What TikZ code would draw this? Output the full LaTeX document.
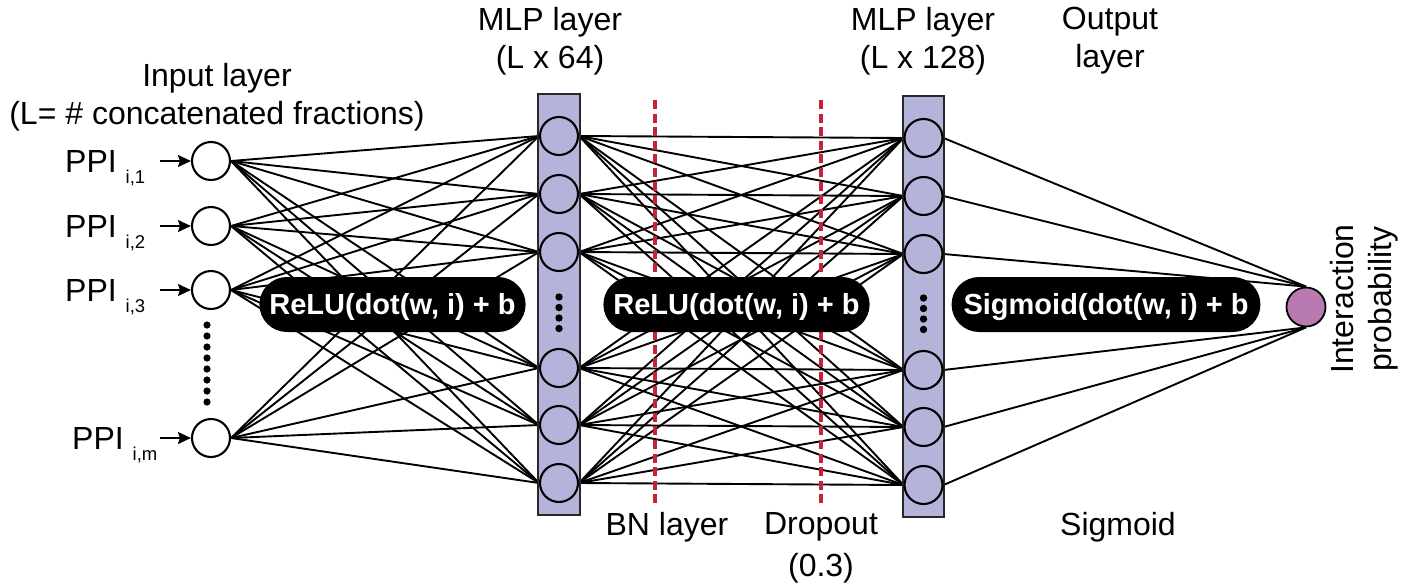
\documentclass[tikz,border=0pt]{standalone}
\usepackage{fontspec}
\setmainfont{Liberation Sans}
\usetikzlibrary{arrows.meta}
\pgfdeclarelayer{background}
\pgfsetlayers{background,main}
\definecolor{lav}{RGB}{180,180,218}
\definecolor{outp}{RGB}{185,122,178}
\definecolor{dred}{RGB}{196,36,52}
\definecolor{rectedge}{RGB}{40,40,40}
\begin{document}
\begin{tikzpicture}[x=1pt,y=-1pt,
  neuron/.style={circle, draw=black, line width=2.1pt, minimum size=38pt, inner sep=0pt},
  inneuron/.style={neuron, fill=white},
  hidneuron/.style={neuron, fill=lav},
  outneuron/.style={neuron, fill=outp, minimum size=39pt, line width=1.8pt},
  layerbox/.style={draw=rectedge, fill=lav, line width=1.9pt, inner sep=0pt},
  wire/.style={line width=1.9pt, black},
  pill/.style={fill=black, text=white, rounded corners=27.5pt, minimum height=55pt, inner xsep=10pt, inner ysep=0pt, text height=20.8pt, text depth=0pt, font=\fontsize{29}{34}\selectfont\bfseries},
  lbl/.style={inner sep=0pt, font=\fontsize{32}{38}\selectfont, align=center},
  ppilbl/.style={inner sep=0pt, font=\fontsize{32}{38}\selectfont, anchor=base west},
  redline/.style={dred, line width=4pt, dash pattern=on 9pt off 4.6pt},
  feed/.style={line width=2pt, -{Stealth[length=13pt,width=12pt,inset=2pt]}},
  dotmark/.style={fill=black}
]
\useasboundingbox (0,0) rectangle (1406,587);

% layer boxes
\node[layerbox, minimum width=42pt, minimum height=421pt] (L1) at (559,304.5) {};
\node[layerbox, minimum width=41pt, minimum height=421pt] (L2) at (923.5,306.5) {};

% input neurons
\node[inneuron] (i1) at (211,161) {};
\node[inneuron] (i2) at (211,226) {};
\node[inneuron] (i3) at (211,290) {};
\node[inneuron] (im) at (211,438) {};

% hidden layer 1
\foreach \n/\y in {1/136,2/194,3/252,4/368,5/425,6/483}
  \node[hidneuron] (a\n) at (559,\y) {};
% hidden layer 2
\foreach \n/\y in {1/138,2/196,3/254,4/370,5/427,6/485}
  \node[hidneuron] (b\n) at (923.5,\y) {};

% output neuron
\node[outneuron] (o) at (1306,307) {};

% connectors
\begin{pgfonlayer}{background}
  \foreach \s in {i1,i2,i3,im}
    \foreach \t in {a1,a2,a3,a4,a5,a6}
      \draw[wire] (\s.east) -- (\t.west);
  \foreach \s in {a1,a2,a3,a4,a5,a6}
    \foreach \t in {b1,b2,b3,b4,b5,b6}
      \draw[wire] (\s.east) -- (\t.west);
  \foreach \s in {b1,b2,b3}
    \draw[wire] (\s.east) -- (o.north);
  \foreach \s in {b4,b5,b6}
    \draw[wire] (\s.east) -- (o.south);
\end{pgfonlayer}

% dots
\foreach \y in {325,336,347,358,369,380,391,402}
  \fill[dotmark] (207,\y) circle (3.6pt);
\foreach \y in {297,307.5,318,328.5}
  \fill[dotmark] (559,\y) circle (3.7pt);
\foreach \y in {298,308.5,319,329.5}
  \fill[dotmark] (923.5,\y) circle (3.7pt);

% input labels and arrows
\node[ppilbl] (p1) at (65,172) {PPI \raisebox{-11pt}{\fontsize{18.5}{18}\selectfont i,1}};
\node[ppilbl] (p2) at (65,237) {PPI \raisebox{-11pt}{\fontsize{18.5}{18}\selectfont i,2}};
\node[ppilbl] (p3) at (65,301) {PPI \raisebox{-11pt}{\fontsize{18.5}{18}\selectfont i,3}};
\node[ppilbl] (pm) at (72,449) {PPI \raisebox{-11pt}{\fontsize{18.5}{18}\selectfont i,m}};
\coordinate (s1) at (160,161);
\coordinate (s2) at (160,226);
\coordinate (s3) at (160,290);
\coordinate (sm) at (160,438);
\draw[feed] (s1) -- (i1.west);
\draw[feed] (s2) -- (i2.west);
\draw[feed] (s3) -- (i3.west);
\draw[feed] (sm) -- (im.west);

% dashed BN / dropout lines
\coordinate (bnT) at (655,100);
\coordinate (bnB) at (655,507);
\coordinate (doT) at (821,100);
\coordinate (doB) at (821,507);
\draw[redline] (bnT) -- (bnB);
\draw[redline] (doT) -- (doB);

% activation pills
\node[pill] (P1) at (392.5,304.5) {ReLU(dot(w, i) + b};
\node[pill] (P2) at (736.5,304.5) {ReLU(dot(w, i) + b};
\node[pill, inner xsep=12pt] (P3) at (1106,304.5) {Sigmoid(dot(w, i) + b};

% titles
\node[lbl, anchor=north] (tin) at (217,63) {Input layer\\(L= \# concatenated fractions)};
\node[lbl, anchor=north] (tm1) at (550,7) {MLP layer\\(L x 64)};
\node[lbl, anchor=north] (tm2) at (923,7) {MLP layer\\(L x 128)};
\node[lbl, anchor=north] (tout) at (1110,7) {Output\\layer};
\node[lbl, anchor=base] (tbn) at (667,535) {BN layer};
\node[lbl, anchor=north, font=\fontsize{32}{42}\selectfont] (tdo) at (821,512) {Dropout\\(0.3)};
\node[lbl, anchor=base] (tsig) at (1118,535) {Sigmoid};
\node[lbl, anchor=north, rotate=90] (tip) at (1330,299) {Interaction\\probability};
\end{tikzpicture}
\end{document}
